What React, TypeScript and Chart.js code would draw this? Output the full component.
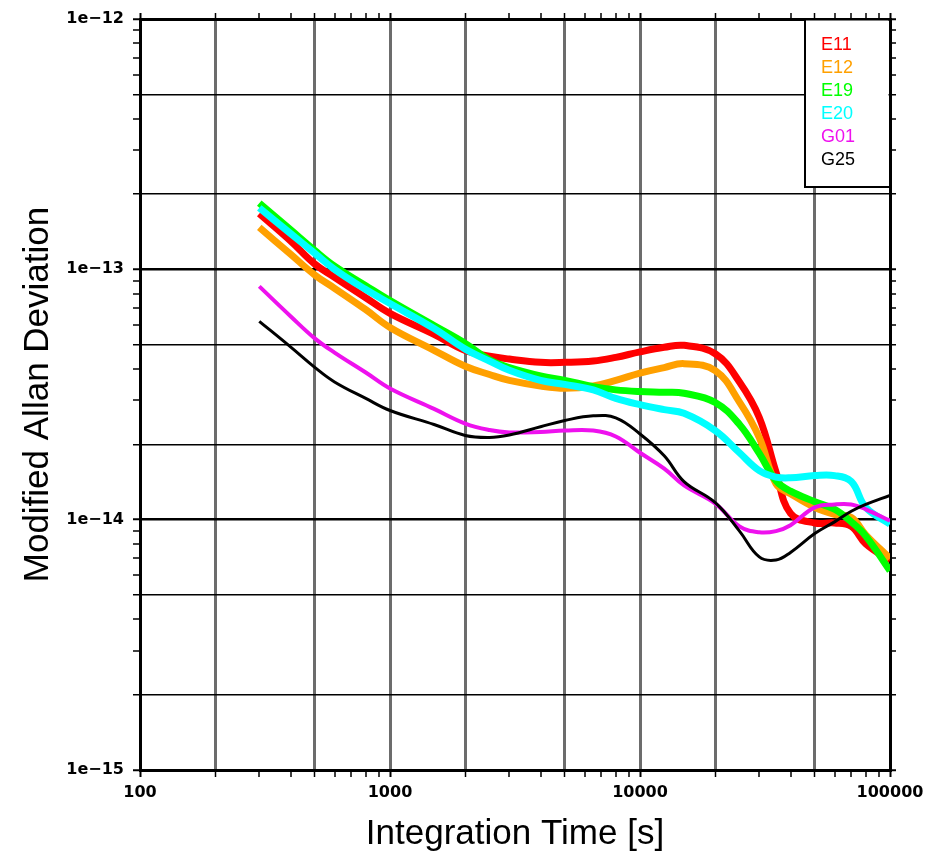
import React, { useEffect, useRef } from "react";
import { Chart, registerables } from "chart.js";

Chart.register(...registerables);

// Integration times [s]
const tau = [300, 400, 500, 600, 800, 1000, 1500, 2000, 2500, 3000, 4000, 5000, 6500, 8000, 10000, 12500, 15000, 20000, 25000, 30000, 35000, 40000, 50000, 60000, 70000, 80000, 100000];

const e11 = [1.67e-13, 1.3e-13, 1.05e-13, 9.3e-14, 7.7e-14, 6.67e-14, 5.5e-14, 4.74e-14, 4.5e-14, 4.38e-14, 4.25e-14, 4.25e-14, 4.3e-14, 4.45e-14, 4.68e-14, 4.88e-14, 4.97e-14, 4.6e-14, 3.55e-14, 2.56e-14, 1.55e-14, 1.06e-14, 9.7e-15, 9.7e-15, 9.4e-15, 8.0e-15, 6.86e-15];
const e12 = [1.47e-13, 1.15e-13, 9.5e-14, 8.4e-14, 6.9e-14, 5.86e-14, 4.75e-14, 4.1e-14, 3.8e-14, 3.6e-14, 3.42e-14, 3.35e-14, 3.42e-14, 3.6e-14, 3.85e-14, 4.05e-14, 4.2e-14, 3.94e-14, 2.95e-14, 2.13e-14, 1.39e-14, 1.27e-14, 1.12e-14, 1.05e-14, 1.02e-14, 8.7e-15, 7e-15];
const e19 = [1.84e-13, 1.44e-13, 1.19e-13, 1.03e-13, 8.6e-14, 7.5e-14, 5.96e-14, 5.06e-14, 4.35e-14, 4.05e-14, 3.75e-14, 3.6e-14, 3.4e-14, 3.3e-14, 3.25e-14, 3.23e-14, 3.2e-14, 2.94e-14, 2.4e-14, 1.84e-14, 1.43e-14, 1.3e-14, 1.18e-14, 1.1e-14, 9.8e-15, 8.6e-15, 6.25e-15];
const e20 = [1.76e-13, 1.39e-13, 1.16e-13, 1.0e-13, 8.3e-14, 7.3e-14, 5.8e-14, 4.8e-14, 4.3e-14, 3.95e-14, 3.6e-14, 3.47e-14, 3.3e-14, 3.05e-14, 2.88e-14, 2.75e-14, 2.66e-14, 2.27e-14, 1.85e-14, 1.57e-14, 1.48e-14, 1.47e-14, 1.5e-14, 1.5e-14, 1.42e-14, 1.12e-14, 9.6e-15];
const g01 = [8.55e-14, 6.5e-14, 5.3e-14, 4.65e-14, 3.87e-14, 3.34e-14, 2.77e-14, 2.42e-14, 2.28e-14, 2.23e-14, 2.24e-14, 2.27e-14, 2.27e-14, 2.15e-14, 1.85e-14, 1.6e-14, 1.37e-14, 1.16e-14, 9.4e-15, 8.9e-15, 9.0e-15, 9.5e-15, 1.12e-14, 1.15e-14, 1.15e-14, 1.1e-14, 9.9e-15];
const g25 = [6.2e-14, 4.9e-14, 4.06e-14, 3.55e-14, 3.05e-14, 2.73e-14, 2.4e-14, 2.17e-14, 2.13e-14, 2.18e-14, 2.35e-14, 2.49e-14, 2.6e-14, 2.55e-14, 2.2e-14, 1.8e-14, 1.42e-14, 1.17e-14, 9.0e-15, 7.1e-15, 6.9e-15, 7.4e-15, 8.8e-15, 9.8e-15, 1.08e-14, 1.15e-14, 1.25e-14];

const seriesLabels = ["E11", "E12", "E19", "E20", "G01", "G25"];
const seriesColors = ["#ff0000", "#ffa000", "#00ff00", "#00ffff", "#ee11ee", "#000000"];
const seriesWidths = [7, 7, 7, 7, 4, 3];
const seriesOrder = [5, 4, 3, 2, 1, 0];
const seriesValues = [e11, e12, e19, e20, g01, g25];

const xDecades = [100, 1000, 10000, 100000];
const xTickLabels = ["100", "1000", "10000", "100000"];
const yDecades = [1e-15, 1e-14, 1e-13, 1e-12];
const yTickLabels = ["1e\u221215", "1e\u221214", "1e\u221213", "1e\u221212"];

function allTicks(decades: number[]) {
  const out: number[] = [];
  for (let i = 0; i < decades.length - 1; i++) {
    for (let m = 1; m <= 9; m++) out.push(m * decades[i]);
  }
  out.push(decades[decades.length - 1]);
  return out;
}
const xTickValues = allTicks(xDecades);
const yTickValues = allTicks(yDecades);

function mant(v: number) {
  const e = Math.floor(Math.log10(v) + 1e-9);
  return Math.round(v / Math.pow(10, e));
}

function labelFor(value: number, decades: number[], labels: string[]) {
  const i = decades.findIndex((d) => Math.abs(value / d - 1) < 1e-6);
  return i >= 0 ? labels[i] : "";
}

const tickFont = { family: "DejaVu Sans", size: 16, weight: "bold" as const };
const titleFont = { family: "Liberation Sans", size: 35, lineHeight: 1 };

const legendPlugin = {
  id: "boxLegend",
  afterDraw(chart: any) {
    const { ctx, chartArea } = chart;
    const w = 85;
    const h = 168;
    const x0 = chartArea.right - w;
    const y0 = chartArea.top;
    ctx.save();
    ctx.fillStyle = "#ffffff";
    ctx.fillRect(x0, y0 + 1.5, w - 1.5, h - 1.5);
    ctx.strokeStyle = "#000000";
    ctx.lineWidth = 2;
    ctx.beginPath();
    ctx.moveTo(x0, y0);
    ctx.lineTo(x0, y0 + h);
    ctx.lineTo(chartArea.right, y0 + h);
    ctx.stroke();
    ctx.font = '18px "Liberation Sans"';
    ctx.textBaseline = "middle";
    ctx.textAlign = "left";
    chart.data.datasets.forEach((ds: any, i: number) => {
      ctx.fillStyle = ds.borderColor;
      ctx.fillText(ds.label, x0 + 16, y0 + 26 + i * 23);
    });
    ctx.restore();
  },
};

export default function App() {
  const canvasRef = useRef<HTMLCanvasElement | null>(null);

  useEffect(() => {
    if (!canvasRef.current) return;
    const datasets = seriesValues.map((vals, i) => ({
      label: seriesLabels[i],
      data: tau.map((t, j) => ({ x: t, y: vals[j] })),
      borderColor: seriesColors[i],
      backgroundColor: seriesColors[i],
      borderWidth: seriesWidths[i],
      pointRadius: 0,
      tension: 0.4,
      borderJoinStyle: "round" as const,
      order: seriesOrder[i],
      fill: false,
    }));

    const xGrid = {
      color: (c: any) => ([1, 2, 5].includes(mant(c.tick.value)) ? "#6c6c6c" : "rgba(0,0,0,0)"),
      lineWidth: (c: any) => ([1, 2, 5].includes(mant(c.tick.value)) ? 3 : 0),
      drawTicks: true,
      tickLength: 7,
      tickColor: "#000000",
      tickWidth: (c: any) => (mant(c.tick.value) === 1 ? 2 : 1.5),
    };
    const yGrid = {
      color: (c: any) => ([1, 2, 5].includes(mant(c.tick.value)) ? "#000000" : "rgba(0,0,0,0)"),
      lineWidth: (c: any) => (mant(c.tick.value) === 1 ? 2.5 : [2, 5].includes(mant(c.tick.value)) ? 1.5 : 0),
      drawTicks: true,
      tickLength: 7,
      tickColor: "#000000",
      tickWidth: (c: any) => (mant(c.tick.value) === 1 ? 2 : 1.5),
    };
    const border = { display: true, color: "#000000", width: 3 };

    const chart = new Chart(canvasRef.current, {
      type: "line",
      data: { datasets },
      plugins: [legendPlugin],
      options: {
        animation: false,
        responsive: false,
        maintainAspectRatio: false,
        layout: { padding: 0 },
        plugins: { legend: { display: false }, tooltip: { enabled: false } },
        scales: {
          x: {
            type: "logarithmic",
            position: "bottom",
            min: 100,
            max: 100000,
            afterBuildTicks: (s: any) => {
              s.ticks = xTickValues.map((v) => ({ value: v }));
            },
            afterFit: (s: any) => {
              s.height = 86;
            },
            ticks: {
              autoSkip: false,
              maxRotation: 0,
              minRotation: 0,
              padding: 6,
              color: "#000000",
              font: tickFont,
              callback: (v: any) => labelFor(Number(v), xDecades, xTickLabels),
            },
            grid: xGrid,
            border,
            title: {
              display: true,
              text: "Integration Time [s]",
              color: "#000000",
              font: titleFont,
              padding: { top: 0, bottom: 4 },
            },
          },
          x2: {
            type: "logarithmic",
            position: "top",
            min: 100,
            max: 100000,
            afterBuildTicks: (s: any) => {
              s.ticks = xTickValues.map((v) => ({ value: v }));
            },
            afterFit: (s: any) => {
              s.height = 19;
            },
            ticks: { display: false, autoSkip: false },
            grid: { ...xGrid, drawOnChartArea: false, tickLength: 6 },
            border,
          },
          y: {
            type: "logarithmic",
            position: "left",
            min: 1e-15,
            max: 1e-12,
            afterBuildTicks: (s: any) => {
              s.ticks = yTickValues.map((v) => ({ value: v }));
            },
            afterFit: (s: any) => {
              s.width = 140;
            },
            ticks: {
              autoSkip: false,
              padding: 9,
              color: "#000000",
              font: tickFont,
              callback: (v: any) => labelFor(Number(v), yDecades, yTickLabels),
            },
            grid: yGrid,
            border,
            title: {
              display: true,
              text: "Modified Allan Deviation",
              color: "#000000",
              font: titleFont,
              padding: { top: 21, bottom: 0 },
            },
          },
          y2: {
            type: "logarithmic",
            position: "right",
            min: 1e-15,
            max: 1e-12,
            afterBuildTicks: (s: any) => {
              s.ticks = yTickValues.map((v) => ({ value: v }));
            },
            afterFit: (s: any) => {
              s.width = 53;
            },
            ticks: { display: false, autoSkip: false },
            grid: { ...yGrid, drawOnChartArea: false, tickLength: 6 },
            border,
          },
        },
      } as any,
    });
    return () => chart.destroy();
  }, []);

  return (
    <div style={{ position: "absolute", left: 0, top: 0, width: 943, height: 856, background: "#ffffff" }}>
      <canvas ref={canvasRef} width={943} height={856} style={{ display: "block" }} />
    </div>
  );
}
